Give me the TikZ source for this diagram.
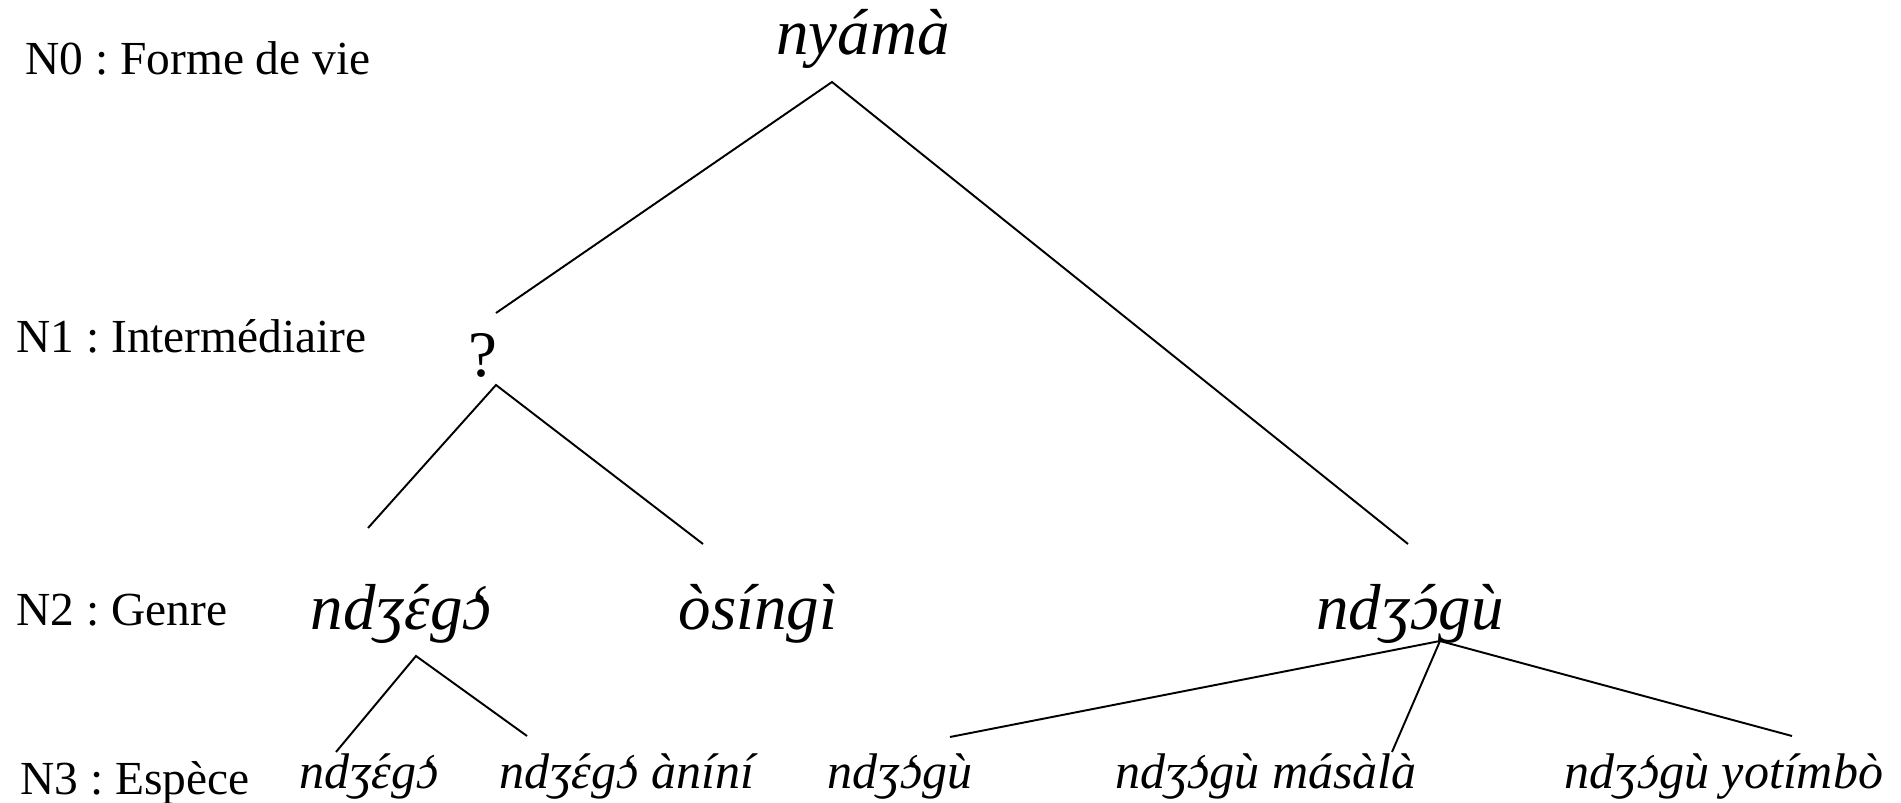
\documentclass[tikz,border=0pt]{standalone}
\usepackage{fontspec}
\setmainfont{Liberation Serif}
\usepackage{tikz}
\usetikzlibrary{positioning}
\frenchspacing
% accents placed over IPA letters
\newcommand{\acu}[1]{\accent"00B4 #1}
\newcommand{\grv}[1]{\accent"0060 #1}

\begin{document}
\begin{tikzpicture}[
  x=0.02cm,y=-0.02cm,
  level/.style={anchor=base west,inner sep=0pt,font=\fontsize{27}{32}\selectfont},
  genre/.style={anchor=base,inner sep=0pt,font=\fontsize{37}{44}\selectfont\itshape},
  espece/.style={anchor=base,inner sep=0pt,font=\fontsize{28.5}{34}\selectfont\itshape},
  branch/.style={line width=1.1pt}
]
\useasboundingbox (0,0) rectangle (1901,803);

% Levels
\node[level] (n0) at (25,75) {N0 : Forme de vie};
\node[level] (n1) at (16,353) {N1 : Intermédiaire};
\node[level] (n2) at (16,626) {N2 : Genre};
\node[level] (n3) at (20,794) {N3 : Espèce};

% Nodes
\node[genre] (nyama) at (863,55) {nyámà};
\node[anchor=base,inner sep=0pt,font=\fontsize{37}{44}\selectfont] (q) at (483,377) {?};
\node[genre] (ndzego) at (401,630) {ndʒ\acu{ɛ}g\grv{ɔ}};
\node[genre] (osingi) at (758,630) {òsíngì};
\node[genre] (ndzogu) at (1410,630) {ndʒ\acu{ɔ}gù};
\node[espece] (ndzego3) at (369,788) {ndʒ\acu{ɛ}g\grv{ɔ}};
\node[espece] (anini) at (627,788) {ndʒ\acu{ɛ}g\grv{ɔ} àníní};
\node[espece] (ndzogu3) at (900,788) {ndʒ\grv{ɔ}gù};
\node[espece] (masala) at (1266,788) {ndʒ\grv{ɔ}gù másàlà};
\node[espece] (yotimbo) at (1724,788) {ndʒ\grv{ɔ}gù yotímbò};

% Branch points
\coordinate (b-nyama) at (832,82);
\coordinate (b-q) at (496,385);
\coordinate (b-ndzego) at (416,656);
\coordinate (b-ndzogu) at (1440,641);
\coordinate (t-q) at (496,313);
\coordinate (t-ndzogu) at (1408,544);
\coordinate (t-ndzego) at (368,528);
\coordinate (t-osingi) at (703,544);
\coordinate (t-ndzego3) at (336,752);
\coordinate (t-anini) at (527,736);
\coordinate (t-ndzogu3) at (950,737);
\coordinate (t-masala) at (1392,752);
\coordinate (t-yotimbo) at (1792,736);

% Tree
\draw[branch] (t-q) -- (b-nyama) -- (t-ndzogu);
\draw[branch] (t-ndzego) -- (b-q) -- (t-osingi);
\draw[branch] (t-ndzego3) -- (b-ndzego) -- (t-anini);
\draw[branch] (t-ndzogu3) -- (b-ndzogu) -- (t-yotimbo);
\draw[branch] (b-ndzogu) -- (t-masala);
\end{tikzpicture}
\end{document}
